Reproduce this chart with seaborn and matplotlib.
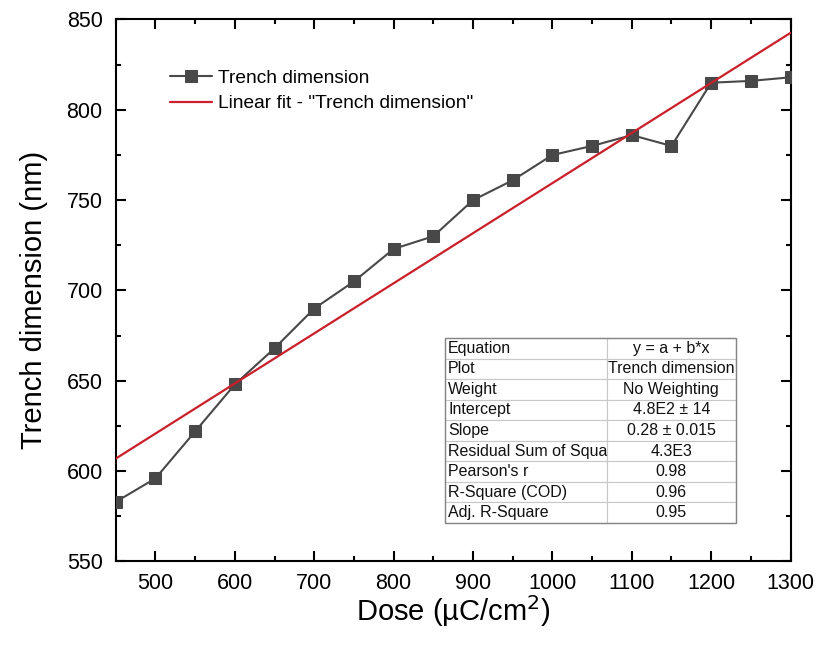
import numpy as np
import pandas as pd
import matplotlib
matplotlib.use("Agg")
import matplotlib.pyplot as plt
from matplotlib.ticker import MultipleLocator
from matplotlib.patches import Rectangle
import seaborn as sns

# Measured trench width versus exposure dose
dose = [450, 500, 550, 600, 650, 700, 750, 800, 850, 900,
        950, 1000, 1050, 1100, 1150, 1200, 1250, 1300]
trench = [583, 596, 622, 648, 668, 690, 705, 723, 730, 750,
          761, 775, 780, 786, 780, 815, 816, 818]

# Fit-report rows
fit_labels = ["Equation", "Plot", "Weight", "Intercept", "Slope",
              "Residual Sum of Squa", "Pearson's r", "R-Square (COD)",
              "Adj. R-Square"]
fit_values = ["y = a + b*x", "Trench dimension", "No Weighting",
              "4.8E2 \u00b1 14", "0.28 \u00b1 0.015", "4.3E3",
              "0.98", "0.96", "0.95"]

x_ticks = [500, 600, 700, 800, 900, 1000, 1100, 1200, 1300]
y_ticks = [550, 600, 650, 700, 750, 800, 850]

sns.set_theme(style="ticks")
plt.rcParams["font.family"] = ["Liberation Sans", "DejaVu Sans"]
plt.rcParams["text.color"] = "black"
plt.rcParams["axes.labelcolor"] = "black"

df = pd.DataFrame({"dose": dose, "trench": trench})

# Least-squares line through the measurements
slope, intercept = np.polyfit(df["dose"], df["trench"], 1)
fit_x = np.array([dose[0], dose[-1]])
fit_df = pd.DataFrame({"dose": fit_x, "fit": intercept + slope * fit_x})

fig = plt.figure(figsize=(8.2, 6.45), dpi=100)
ax = fig.add_axes([0.1412, 0.1295, 0.8229, 0.8403])

sns.lineplot(data=df, x="dose", y="trench", ax=ax, color="#484848",
             linewidth=1.5, marker="s", markersize=8.5,
             markeredgecolor="#484848", markerfacecolor="#484848",
             label="Trench dimension", zorder=3)
sns.lineplot(data=fit_df, x="dose", y="fit", ax=ax, color="#c9202b",
             linewidth=1.6, label='Linear fit - "Trench dimension"',
             zorder=4)

ax.set_xlim(450, 1300)
ax.set_ylim(550, 850)
ax.set_xticks(x_ticks)
ax.set_yticks(y_ticks)
ax.xaxis.set_minor_locator(MultipleLocator(50))
ax.yaxis.set_minor_locator(MultipleLocator(25))
ax.tick_params(which="both", direction="in", top=True, right=True,
               width=1.5, colors="black", labelsize=15.5)
ax.tick_params(which="major", length=7.2)
ax.tick_params(which="minor", length=3.6)
ax.tick_params(axis="x", pad=8)
ax.tick_params(axis="y", pad=9.4)
for s in ax.spines.values():
    s.set_linewidth(1.5)
    s.set_color("black")

ax.set_xlabel("Dose (\u00b5C/cm$^2$)", fontsize=21, labelpad=0)
ax.set_ylabel("Trench dimension (nm)", fontsize=21, labelpad=13.5, y=0.482)

leg = ax.legend(loc="upper left", bbox_to_anchor=(0.0803, 0.908),
                frameon=False, fontsize=13.8, handlelength=2.2,
                handletextpad=0.3, labelspacing=0.42, borderaxespad=0,
                borderpad=0)
for t in leg.get_texts():
    t.set_color("black")

# Fit summary table
tx, ty, tw, th = 0.4877, 0.071, 0.431, 0.3414
tbl = ax.table(cellText=[[a, b] for a, b in zip(fit_labels, fit_values)],
               colWidths=[0.557, 0.443], cellLoc="center",
               bbox=[tx, ty, tw, th])
tbl.auto_set_font_size(False)
tbl.set_fontsize(11.5)
for (r, c), cell in tbl.get_celld().items():
    cell.set_edgecolor("#c8c8c8")
    cell.set_linewidth(0.8)
    cell.set_facecolor("white")
    txt = cell.get_text()
    if c == 0:
        txt.set_ha("left")
        cell.PAD = 0.02
    txt.set_color("#111111")
    txt.set_clip_path(cell)
ax.add_patch(Rectangle((tx, ty), tw, th, transform=ax.transAxes,
                       fill=False, edgecolor="#858585", linewidth=1.0,
                       zorder=10))

fig.savefig("out.png", dpi=100)
